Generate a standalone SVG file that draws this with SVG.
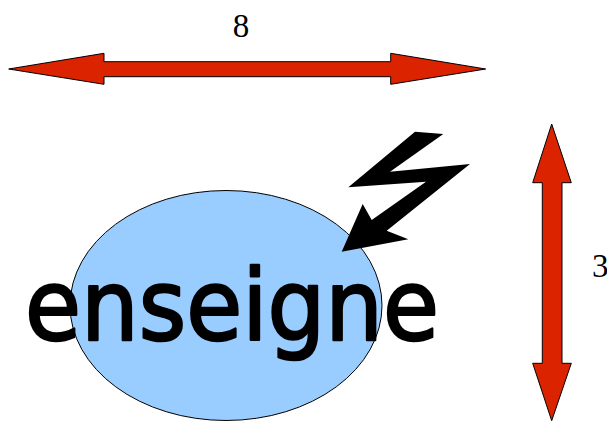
<svg xmlns="http://www.w3.org/2000/svg" width="607" height="421" viewBox="0 0 607 421">
<style>
.arrow{fill:#dc2300;stroke:#000;stroke-width:1;stroke-linejoin:miter}
.num{font-family:"Liberation Serif","Times New Roman",serif;font-size:33px;fill:#000}
.word{font-family:"DejaVu Sans","Liberation Sans",sans-serif;font-size:98px;fill:#000;stroke:#000;stroke-width:2.5;stroke-linejoin:round}
</style>
<rect width="607" height="421" fill="#fff"/>
<g id="ellipse-node">
<ellipse cx="226" cy="305.5" rx="156" ry="115" fill="#99ccff" stroke="#000" stroke-width="1"/>
</g>
<g id="connectors">
<polygon id="width-arrow" class="arrow" points="8.7,69 104,53.3 104,61.7 390.7,61.7 390.7,53.3 485.7,69 390.7,84.3 390.7,76.7 104,76.7 104,84.3"/>
<polygon id="height-arrow" class="arrow" points="551.7,124 571.3,182.7 562,182.7 562,363.3 571.3,363.3 551.7,420.7 532.7,363.3 542.3,363.3 542.3,182.7 532.7,182.7"/>
</g>
<g id="lightning">
<polygon points="415,131.7 443.3,134 390,171.7 470,164 386.7,230.7 408.3,239.3 341.7,251.7 362.7,204 371.7,220 426,181.7 348.3,187.3" fill="#000"/>
</g>
<g id="word-label">
<text class="word" x="25" y="340" textLength="414" lengthAdjust="spacingAndGlyphs">enseigne</text>
</g>
<g id="label-8">
<text class="num" x="241" y="36.5" text-anchor="middle">8</text>
</g>
<g id="label-3">
<text class="num" x="592" y="276.5">3</text>
</g>
</svg>
